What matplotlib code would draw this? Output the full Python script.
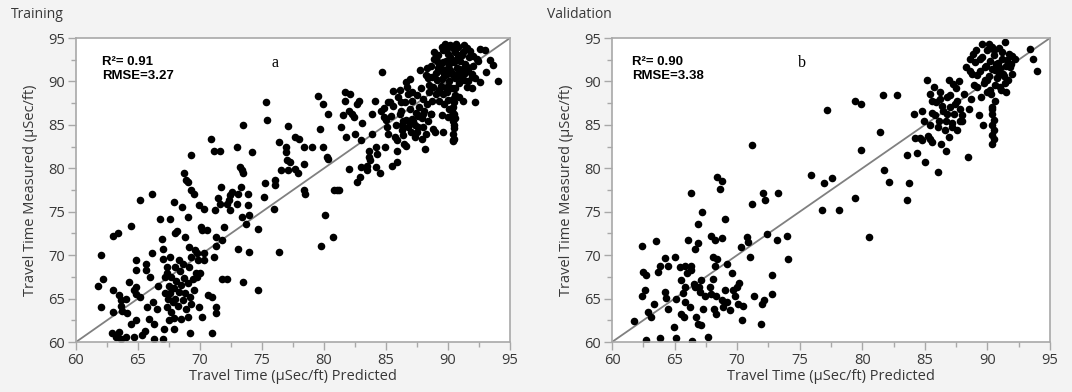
import numpy as np
import matplotlib
matplotlib.use("Agg")
import matplotlib.pyplot as plt
from matplotlib.ticker import MultipleLocator

plt.rcParams["font.family"] = ["Open Sans", "DejaVu Sans"]

text_color = "#383838"
frame_color = "#a8a8a8"
bg_color = "#f3f3f3"

# ---- Training panel, (predicted, measured)
train_low = [
    (61.75, 66.4), (62.0, 70.0), (62.15, 67.25), (62.05, 64.0), (62.95, 66.0),
    (63.0, 63.4), (63.0, 72.2), (63.35, 72.5), (62.9, 61.0), (63.2, 60.6),
    (63.45, 61.15), (63.6, 60.4), (63.5, 65.4), (63.6, 64.8), (63.65, 64.2),
    (63.7, 63.6), (64.1, 63.3), (64.25, 66.9), (64.0, 65.0), (64.4, 73.4),
    (64.4, 62.1), (64.65, 60.6), (64.7, 65.95), (64.8, 69.4), (64.8, 68.25),
    (64.8, 66.3), (64.85, 65.55), (64.85, 62.5), (64.0, 60.6), (65.2, 76.3),
    (65.2, 65.2), (65.3, 60.8), (65.6, 61.3), (65.65, 69.0), (65.65, 68.25),
    (65.7, 64.0), (65.85, 62.7), (66.0, 67.5), (66.1, 77.0), (66.1, 70.2),
    (66.2, 64.6), (66.25, 60.4), (66.3, 62.1), (66.5, 63.85), (66.6, 66.5),
    (66.75, 74.2), (66.9, 71.9), (67.0, 69.6), (67.05, 60.4), (67.1, 61.5),
    (67.0, 70.7), (67.2, 65.6), (67.35, 64.0), (67.5, 62.5), (67.6, 74.2),
    (67.6, 69.8), (67.65, 67.5), (67.2, 67.5), (67.35, 68.6), (67.9, 61.5),
]
train_low_dense = [
    (67.4, 65.0), (67.6, 65.6), (67.8, 64.6), (67.9, 66.2), (68.0, 65.0),
    (68.1, 67.0), (68.2, 64.2), (68.3, 65.8), (68.4, 68.2), (68.5, 66.6),
    (68.6, 64.8), (68.7, 67.4), (68.8, 65.6), (68.9, 63.8), (69.0, 66.8),
    (69.1, 68.6), (69.2, 65.2), (69.4, 67.2), (69.5, 66.0), (69.7, 68.0),
    (67.5, 66.4), (67.7, 63.4), (68.0, 68.6), (68.3, 69.4), (68.6, 69.0),
    (67.3, 68.0), (67.9, 62.8), (68.5, 62.6), (69.3, 64.4), (69.8, 69.4),
]
train_mid = [
    (67.9, 76.1), (68.0, 72.5), (68.15, 72.8), (68.55, 75.5), (68.7, 79.4),
    (68.9, 78.6), (69.0, 78.4), (68.8, 72.1), (69.0, 74.4), (69.1, 70.95),
    (69.2, 61.0), (69.25, 81.5), (69.3, 77.5), (69.5, 77.05), (69.25, 69.8),
    (69.0, 62.9), (69.6, 70.55), (69.75, 70.2), (69.9, 75.75), (70.05, 73.2),
    (70.15, 72.85), (70.3, 70.2), (70.3, 69.4), (69.95, 64.0), (70.15, 62.9),
    (69.75, 67.5), (70.0, 67.9), (70.35, 75.35), (70.55, 72.85), (70.65, 65.4),
    (70.85, 83.4), (71.0, 61.0), (71.0, 65.2), (71.1, 82.0), (71.2, 75.2),
    (71.25, 64.0), (71.25, 63.3), (71.3, 72.1), (71.3, 71.0), (71.1, 69.8),
    (71.45, 76.6), (71.65, 82.0), (71.65, 75.9), (71.7, 77.85), (71.75, 71.7),
    (71.8, 67.3), (71.9, 73.2), (72.2, 67.3), (72.15, 75.9), (72.3, 76.3),
    (72.45, 75.2), (72.45, 76.9), (72.6, 77.3), (73.0, 82.4), (73.05, 70.75),
    (73.0, 75.9), (73.1, 77.05), (73.25, 80.15), (73.4, 79.75), (73.5, 79.4),
    (73.3, 77.85), (73.4, 74.4), (73.5, 84.95), (73.5, 66.9), (73.7, 73.6),
    (73.9, 77.05), (73.9, 75.75), (73.95, 74.6), (73.95, 70.35), (74.2, 81.9),
    (74.7, 73.05), (74.7, 66.0), (75.25, 78.25), (75.2, 76.7), (75.35, 87.6),
    (75.4, 85.6), (76.0, 75.35), (76.05, 78.6), (76.05, 78.05), (76.4, 70.35),
    (76.35, 83.0), (76.5, 79.75), (77.1, 84.85), (76.95, 82.45), (76.95, 81.9),
    (77.05, 80.9), (77.1, 79.75), (77.25, 80.7), (77.65, 83.6), (77.7, 79.95),
    (77.9, 79.4), (78.0, 83.4), (78.35, 82.45), (78.4, 80.5), (78.4, 77.45),
    (78.5, 77.05), (79.0, 82.45), (79.5, 88.3), (79.65, 84.55), (79.75, 71.1),
    (79.9, 82.45), (79.95, 87.45), (80.1, 74.6), (80.25, 81.3), (80.35, 81.1),
    (80.35, 86.3), (80.75, 72.1), (80.8, 77.45), (81.05, 77.45), (81.2, 77.45),
]
train_high = [
    (81.4, 84.75), (81.7, 88.8), (81.7, 87.8), (81.55, 86.1), (81.8, 83.6),
    (82.0, 86.65), (82.05, 79.95), (82.1, 88.6), (82.25, 86.3), (82.4, 85.9),
    (82.5, 84.0), (82.65, 78.4), (82.7, 87.45), (82.8, 87.8), (82.9, 79.0),
    (83.0, 83.2), (82.95, 80.15), (83.05, 85.25), (83.45, 80.3), (83.45, 79.75),
    (83.6, 82.0), (83.65, 81.3), (83.7, 80.9), (83.85, 86.3), (83.9, 84.0),
    (84.1, 87.8), (84.2, 82.45), (84.2, 80.15), (84.3, 81.7), (84.5, 79.4),
    (84.6, 86.65), (84.7, 91.1), (84.8, 85.9), (84.95, 82.45), (85.05, 84.75),
    (85.2, 84.0), (85.3, 87.6), (85.45, 80.3), (85.6, 88.95), (85.7, 83.6),
    (85.85, 82.0), (85.9, 80.7), (86.1, 86.3), (86.25, 87.6), (86.4, 85.5),
    (86.45, 82.8), (86.6, 89.9), (86.65, 82.6), (86.8, 84.75), (86.95, 90.3),
    (87.1, 85.7), (87.3, 84.95), (87.5, 84.2), (87.75, 91.3), (87.9, 83.4),
    (88.0, 84.75), (88.15, 82.25), (88.2, 90.7), (88.5, 90.5), (88.65, 86.3),
    (88.8, 84.55), (88.95, 84.2), (89.55, 86.1), (89.6, 84.2), (89.75, 94.35),
    (90.0, 85.9), (90.4, 83.2), (90.4, 86.3), (90.65, 94.35), (91.3, 94.15),
    (91.55, 91.65), (91.95, 90.5), (92.05, 92.9), (92.2, 87.6), (92.45, 92.3),
    (92.6, 89.9), (92.95, 93.6), (93.1, 91.1), (93.4, 92.5), (93.6, 91.9),
    (94.0, 90.1), (92.55, 93.75),
]
train_high_dense = [
    (85.4, 86.0), (85.6, 87.2), (85.8, 85.0), (86.0, 88.2), (86.2, 86.6),
    (86.3, 84.4), (86.5, 87.6), (86.6, 85.6), (86.8, 88.6), (86.9, 86.8),
    (87.0, 84.2), (87.1, 87.8), (87.2, 85.4), (87.4, 86.4), (87.5, 88.4),
    (87.6, 84.8), (87.7, 87.0), (87.9, 85.8), (88.0, 88.0), (88.1, 86.6),
    (88.2, 84.0), (88.3, 87.4), (88.4, 85.4), (88.6, 86.2), (88.7, 87.8),
    (86.4, 83.8), (85.9, 83.2), (87.3, 83.6), (86.1, 89.0), (85.2, 87.6),
    (85.0, 85.6), (84.8, 86.9), (87.8, 89.2), (88.5, 89.6), (86.7, 89.4),
    (88.6, 91.8), (88.9, 92.6), (89.0, 91.0), (89.1, 90.2), (89.2, 93.0),
    (89.3, 92.0), (89.4, 89.5), (89.5, 91.2), (89.6, 93.6), (89.7, 90.6),
    (89.8, 92.4), (89.9, 88.8), (90.0, 91.6), (90.0, 93.2), (90.1, 90.0),
    (90.2, 92.8), (90.3, 89.2), (90.3, 91.0), (90.4, 93.8), (90.5, 92.2),
    (90.6, 90.4), (90.6, 88.4), (90.7, 91.6), (90.8, 93.0), (90.9, 89.8),
    (91.0, 92.4), (91.1, 91.0), (91.2, 93.4), (91.3, 90.2), (91.4, 92.0),
    (91.5, 89.4), (91.6, 91.4), (91.7, 92.8), (91.9, 90.8), (92.0, 91.8),
    (89.0, 88.6), (89.3, 87.8), (88.8, 89.4), (88.4, 90.4), (88.5, 88.8),
    (89.7, 87.4), (90.1, 86.8), (90.5, 87.6), (90.9, 88.2), (91.2, 87.8),
    (89.5, 94.0), (90.2, 94.2), (90.8, 94.0), (91.5, 93.8), (89.9, 90.9),
    (90.4, 90.7), (90.0, 89.5), (89.6, 88.6), (91.0, 90.6), (90.6, 89.3),
    (90.3, 92.5), (89.4, 91.6), (89.1, 92.3), (90.9, 91.4), (91.3, 91.6),
    (88.7, 90.5), (88.3, 91.5), (88.9, 93.4), (89.8, 89.2), (91.8, 93.5),
    (92.3, 92.6), (91.6, 90.0), (92.2, 90.4), (91.9, 89.2), (90.4, 88.0),
    (90.0, 87.9), (90.4, 87.0), (90.5, 86.2), (90.4, 85.4), (90.5, 84.6),
    (90.4, 84.0), (90.5, 83.4), (90.4, 83.1), (90.3, 86.6), (90.6, 85.8),
    (90.5, 85.0), (89.2, 91.6), (89.6, 92.2), (90.2, 91.3), (90.7, 92.6),
    (91.1, 93.0), (89.9, 93.8), (90.1, 92.0), (90.8, 90.9), (89.5, 90.3),
    (90.6, 93.4), (91.4, 91.0), (89.3, 89.0), (86.9, 85.2), (87.6, 86.0),
    (86.3, 85.0), (88.0, 86.2), (87.1, 88.8),
]

# ---- Validation panel
valid_low = [
    (61.75, 62.4), (62.4, 71.1), (62.5, 68.05), (62.6, 65.95), (62.4, 65.35),
    (62.75, 67.7), (62.85, 63.45), (62.75, 60.2), (63.15, 62.9), (63.35, 64.35),
    (63.55, 71.6), (63.65, 68.05), (63.8, 68.8), (63.8, 60.5), (64.2, 69.7),
    (64.25, 65.75), (64.35, 65.05), (64.45, 68.8), (64.5, 63.85), (64.95, 61.7),
    (65.0, 69.8), (65.15, 60.5), (65.15, 65.0), (65.4, 68.65), (65.5, 67.1),
    (65.55, 63.25), (65.7, 65.6), (65.75, 62.9), (65.8, 68.8), (65.8, 66.3),
    (65.85, 64.6), (66.0, 67.9), (66.1, 71.7), (66.2, 64.0), (66.35, 77.1),
    (66.35, 68.8), (66.35, 68.25), (66.4, 60.1), (66.55, 66.7), (66.6, 66.3),
    (66.65, 70.75), (66.75, 62.9), (66.85, 73.6), (66.9, 71.4), (66.9, 62.1),
    (66.95, 66.3), (67.0, 65.75), (67.15, 67.1), (67.15, 61.9), (67.2, 74.95),
    (67.3, 63.85), (67.4, 65.35), (67.7, 60.6), (67.8, 66.3), (67.9, 72.2),
    (67.95, 65.5), (68.05, 67.3), (68.1, 69.8), (68.15, 63.85), (68.2, 71.7),
    (68.2, 68.8), (68.3, 63.25), (68.35, 65.35), (68.4, 79.0), (68.4, 69.6),
    (68.6, 77.65), (68.75, 78.55), (68.75, 72.0), (68.8, 64.8), (68.9, 64.0),
    (69.0, 74.2), (69.05, 65.95), (69.15, 69.0), (69.2, 64.6), (69.4, 63.65),
    (69.55, 67.9), (69.7, 65.95), (69.8, 65.35), (69.95, 66.3), (70.05, 64.4),
    (70.15, 66.8), (70.3, 70.95), (70.4, 62.5), (70.5, 64.1), (70.8, 72.1),
    (70.9, 71.5), (71.0, 69.8), (71.15, 75.85), (71.15, 82.65), (71.35, 65.35),
    (71.9, 62.1), (71.95, 64.4), (72.05, 77.1), (72.15, 64.8), (72.2, 76.3),
    (72.35, 72.4), (72.75, 67.7), (72.8, 65.55), (73.15, 71.7), (73.25, 77.1),
    (73.95, 72.15), (74.05, 69.6),
]
valid_mid = [
    (75.9, 79.2), (76.75, 75.2), (76.95, 78.25), (77.15, 86.7), (77.55, 78.9),
    (78.15, 75.15), (79.4, 76.6), (79.45, 87.7), (79.9, 87.45), (79.9, 82.15),
    (80.5, 72.1), (81.45, 84.2), (81.65, 88.4), (81.75, 79.75), (82.1, 78.4),
    (82.8, 88.4), (83.55, 76.3), (83.6, 81.5), (83.7, 78.3),
]
valid_high = [
    (84.15, 86.2), (84.2, 83.5), (84.35, 81.75), (84.6, 83.5), (84.75, 83.2),
    (84.8, 86.65), (84.95, 85.5), (85.05, 80.7), (85.2, 90.2), (85.25, 83.75),
    (85.4, 83.4), (85.4, 88.6), (85.6, 83.0), (85.6, 87.8), (85.75, 89.35),
    (85.8, 86.1), (86.05, 79.6), (86.05, 84.75), (86.2, 88.75), (86.3, 82.8),
    (86.45, 86.65), (86.65, 82.0), (86.7, 85.5), (86.8, 88.2), (86.9, 90.15),
    (87.0, 87.05), (87.15, 84.75), (87.25, 89.75), (87.35, 86.3), (87.55, 87.8),
    (87.7, 90.0), (87.8, 85.5), (87.95, 86.1), (88.1, 88.6), (88.3, 91.65),
    (88.45, 81.3), (88.5, 86.85), (88.6, 91.2), (88.65, 87.95), (88.85, 93.2),
    (88.95, 89.55), (89.15, 90.7), (89.3, 86.1), (89.4, 92.6), (89.55, 94.35),
    (89.65, 84.95), (89.8, 91.65), (89.95, 90.15), (90.1, 94.35), (90.2, 89.0),
    (90.35, 82.8), (90.4, 87.05), (90.55, 93.6), (90.6, 91.3), (90.85, 92.1),
    (91.0, 89.35), (91.15, 93.4), (91.25, 90.9), (91.4, 94.5), (91.45, 88.8),
    (91.6, 92.5), (91.65, 90.15), (91.8, 91.65), (91.95, 92.95), (93.4, 93.75),
    (93.65, 92.6), (94.0, 91.2),
]
valid_high_dense = [
    (85.6, 86.4), (85.9, 87.6), (86.1, 85.4), (86.4, 87.2), (86.6, 84.4),
    (86.8, 86.2), (87.0, 88.4), (87.2, 85.2), (87.4, 87.4), (87.6, 84.4),
    (87.8, 86.8), (88.0, 85.4), (86.2, 88.0), (85.4, 85.0), (86.9, 83.6),
    (87.5, 89.2), (88.8, 90.8), (89.0, 92.2), (89.2, 89.4), (89.4, 91.2),
    (89.6, 92.8), (89.7, 89.8), (89.9, 91.8), (90.0, 93.6), (90.1, 90.6),
    (90.2, 92.4), (90.3, 88.6), (90.4, 91.4), (90.5, 93.0), (90.6, 89.6),
    (90.7, 92.0), (90.8, 90.4), (90.9, 93.8), (91.0, 91.6), (91.1, 89.0),
    (91.2, 92.6), (91.3, 90.6), (91.5, 91.8), (91.7, 93.2), (91.9, 92.0),
    (90.0, 88.8), (89.5, 88.2), (90.6, 87.8), (88.6, 92.6), (89.1, 93.6),
    (90.4, 94.0), (89.8, 90.2), (90.9, 90.9), (91.4, 89.8), (92.0, 90.8),
    (92.2, 92.6), (90.4, 86.2), (90.5, 85.6), (90.4, 85.0), (90.5, 84.4),
    (90.4, 83.8), (90.5, 83.4), (90.4, 86.8),
]

panels = [
    ("Training", "a", "R\u00b2= 0.91\nRMSE=3.27",
     train_low + train_low_dense + train_mid + train_high + train_high_dense,
     [76, 38, 510, 342], 62.1, 76.05),
    ("Validation", "b", "R\u00b2= 0.90\nRMSE=3.38",
     valid_low + valid_mid + valid_high + valid_high_dense,
     [612, 38, 1050, 342], 61.6, 75.2),
]

W, H = 1072, 392
fig = plt.figure(figsize=(W / 100, H / 100), dpi=100, facecolor=bg_color)

for title, letter, stats, pts, box, stat_x, letter_x in panels:
    x0, y0, x1, y1 = box
    ax = fig.add_axes([x0 / W, 1 - y1 / H, (x1 - x0) / W, (y1 - y0) / H])
    ax.set_facecolor("white")
    pts = np.array(pts)
    ax.plot([60, 95], [60, 95], color="#808080", lw=1.3, zorder=1)
    ax.scatter(pts[:, 0], pts[:, 1], s=30, color="black", linewidths=0, zorder=2)
    ax.set_xlim(60, 95)
    ax.set_ylim(60, 95)
    ax.xaxis.set_major_locator(MultipleLocator(5))
    ax.yaxis.set_major_locator(MultipleLocator(5))
    ax.xaxis.set_minor_locator(MultipleLocator(2.5))
    ax.yaxis.set_minor_locator(MultipleLocator(2.5))
    ax.tick_params(which="major", length=6, width=1, color=frame_color,
                   labelsize=10.5, labelcolor=text_color, pad=2)
    ax.tick_params(which="minor", length=3.5, width=1, color=frame_color)
    for sp in ax.spines.values():
        sp.set_color(frame_color)
        sp.set_linewidth(1.2)
    ax.set_xlabel("Travel Time (\u03bcSec/ft) Predicted", fontsize=10.5,
                  color=text_color, labelpad=1)
    ax.set_ylabel("Travel Time Measured (\u03bcSec/ft)", fontsize=10.5,
                  color=text_color, labelpad=7)
    ax.text(stat_x, 92.9, stats, fontsize=9.5, fontweight="bold",
            family="Liberation Sans", va="top", ha="left", linespacing=1.25)
    ax.text(letter_x, 92.1, letter, fontsize=11.5, family="Liberation Serif",
            va="center", ha="center")
    fig.text((x0 - 65) / W, 1 - 15 / H, title, fontsize=10, color=text_color,
             va="center", ha="left")

fig.savefig("out.png", dpi=100, facecolor=bg_color)
